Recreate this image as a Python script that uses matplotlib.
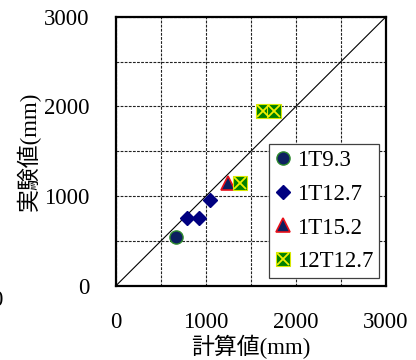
import numpy as np
import matplotlib.pyplot as plt
from matplotlib.ticker import MultipleLocator

t93_calc = [662]
t93_meas = [543]
t127_calc = [784, 921, 1047]
t127_meas = [751, 751, 952]
t152_calc = [1243]
t152_meas = [1149]
t12_127_calc = [1380, 1633, 1756]
t12_127_meas = [1149, 1948, 1948]

labels = ["1T9.3", "1T12.7", "1T15.2", "12T12.7"]
xlabel = "計算値(mm)"
ylabel = "実験値(mm)"
ticks = [0, 1000, 2000, 3000]

FONT = ["Liberation Serif", "Noto Sans CJK JP"]
plt.rcParams["font.family"] = FONT

fig = plt.figure(figsize=(4.16, 3.6), dpi=100)
ax = fig.add_axes([0.2788, 0.2064, 0.6491, 0.7472])

ax.set_xlim(0, 3000)
ax.set_ylim(0, 3000)
ax.set_xticks(ticks)
ax.set_yticks(ticks)
ax.xaxis.set_minor_locator(MultipleLocator(500))
ax.yaxis.set_minor_locator(MultipleLocator(500))
ax.grid(True, which="both", color="#222222", linestyle=(0, (2.5, 1.2)), linewidth=0.8)
ax.set_axisbelow(True)
ax.tick_params(which="both", length=0, labelsize=16.5, pad=19)

for s in ax.spines.values():
    s.set_linewidth(1.6)
    s.set_color("black")

# 1:1 line
ax.plot([0, 3000], [0, 3000], color="black", linewidth=0.8, zorder=2)

h1, = ax.plot(t93_calc, t93_meas, "o", ms=9.5, mfc="#0d2060", mec="#2e8b2e",
              mew=1.0, linestyle="none", zorder=3)
h2, = ax.plot(t127_calc, t127_meas, "D", ms=7.5, mfc="#000080", mec="#000080",
              linestyle="none", zorder=3)
h3, = ax.plot(t152_calc, t152_meas, "^", ms=10, mfc="#0d2060", mec="#e8101a",
              mew=1.2, linestyle="none", zorder=3)
h4a, = ax.plot(t12_127_calc, t12_127_meas, "s", ms=9.5, mfc="#008000", mec="#d8e800",
               mew=0.8, linestyle="none", zorder=3)
h4b, = ax.plot(t12_127_calc, t12_127_meas, "x", ms=8, mec="#f0f000", mew=1.3,
               linestyle="none", zorder=4)

leg = ax.legend([h1, h2, h3, (h4a, h4b)], labels, loc="lower right",
                bbox_to_anchor=(0.974, 0.029), borderaxespad=0, fontsize=16.5,
                fancybox=False, edgecolor="#404040", framealpha=1,
                handlelength=0.7, handletextpad=0.25, labelspacing=0.55,
                borderpad=0.25)
leg.get_frame().set_linewidth(0.9)

ax.set_xlabel(xlabel, fontsize=16.5, labelpad=1)
ax.set_ylabel(ylabel, fontsize=16.5, labelpad=2)

# clipped tick label from neighbouring chart at the left edge
fig.text(-0.021, 0.165, "0", fontsize=16.5, ha="left", va="center")

fig.savefig("out.png", dpi=100)
